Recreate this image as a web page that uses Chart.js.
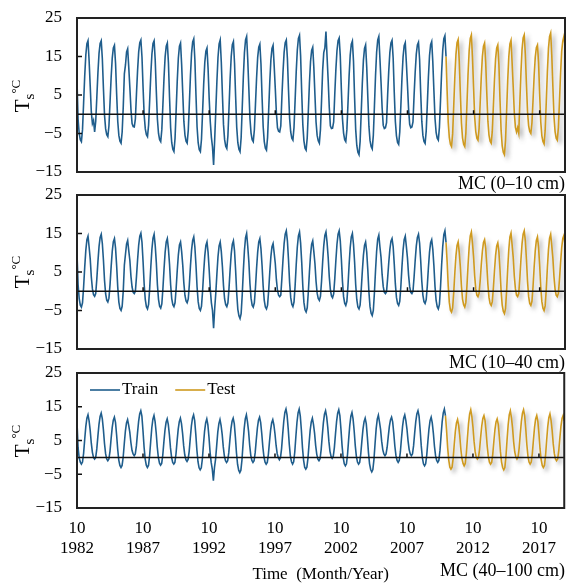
<!DOCTYPE html>
<html>
<head>
<meta charset="utf-8">
<script src="https://cdn.jsdelivr.net/npm/chart.js@4.4.1/dist/chart.umd.min.js"></script>
<style>
  body { margin: 0; background: #fff; width: 566px; height: 583px; overflow: hidden; position: relative;
         font-family: "Liberation Serif", "Times New Roman", serif; color: #000; }
  .panel { position: absolute; left: 0; }
  .ylab { position: absolute; font-size: 21px; line-height: 1; white-space: nowrap;
          transform: translate(-50%, -50%) rotate(-90deg); }
  .ylab .sb { font-size: 15px; position: relative; top: 5px; }
  .ylab .sp { font-size: 13px; position: relative; top: -9px; }
  .mc { position: absolute; right: 1px; font-size: 18px; line-height: 1; white-space: nowrap; }
</style>
</head>
<body>
<canvas class="panel" id="p1" width="566" height="176" style="top:0"></canvas>
<canvas class="panel" id="p2" width="566" height="176" style="top:178px"></canvas>
<canvas class="panel" id="p3" width="566" height="231" style="top:352px"></canvas>

<div class="ylab" style="left:22px;top:96px">T<span class="sb">s</span><span class="sp">°C</span></div>
<div class="ylab" style="left:22px;top:272px">T<span class="sb">s</span><span class="sp">°C</span></div>
<div class="ylab" style="left:22px;top:441px">T<span class="sb">s</span><span class="sp">°C</span></div>
<div class="mc" style="top:174px">MC (0–10 cm)</div>
<div class="mc" style="top:353px">MC (10–40 cm)</div>
<div class="mc" style="top:561px">MC (40–100 cm)</div>

<script>
// monthly soil temperature, Oct 1982 .. Sep 2019, one row = Oct..Sep
const tickMonth = "10";
const tickYears = ["1982", "1987", "1992", "1997", "2002", "2007", "2012", "2017"];
const monthsPerTick = 60;
const nTrain = 336;   // Oct 1982 - Sep 2010 train, rest test

const ts0_10 = [
  8.6, -1.4, -5.0, -6.6, -7.1, -4.0, 2.9, 9.9, 15.4, 18.3, 19.1, 13.9,
  7.3, 0.6, -2.4, -1.6, -4.6, -1.8, 4.4, 10.8, 15.8, 18.4, 19.1, 14.4,
  6.7, -0.3, -3.8, -5.3, -5.8, -3.0, 3.2, 9.6, 14.6, 17.2, 17.9, 13.2,
  5.2, -1.9, -5.5, -7.0, -7.5, -4.6, 2.0, 10.5, 12.8, 16.2, 17.0, 12.1,
  6.9, 1.2, -2.4, -3.2, -3.3, -1.2, 5.4, 11.4, 16.2, 18.6, 19.3, 14.8,
  6.8, -0.3, -3.8, -5.3, -5.8, -2.8, 3.7, 10.4, 15.6, 18.4, 19.1, 14.1,
  6.0, -1.3, -5.0, -6.6, -7.1, -4.0, 2.6, 9.5, 14.9, 17.7, 18.5, 13.4,
  4.4, -3.5, -7.4, -9.1, -9.7, -6.3, 1.0, 8.6, 14.6, 17.7, 18.5, 12.9,
  5.5, -1.8, -5.4, -7.0, -7.5, -4.2, 2.8, 10.1, 15.8, 18.8, 19.6, 14.2,
  5.0, -3.3, -7.4, -9.2, -9.7, -6.5, 0.5, 7.8, 13.4, 16.4, 17.2, 11.8,
  4.0, -2.0, -6.0, -8.5, -13.2, -6.5, 1.0, 8.5, 14.8, 18.3, 19.3, 13.5,
  5.2, -2.7, -6.6, -8.3, -8.9, -5.6, 1.7, 9.2, 15.0, 18.1, 18.9, 13.3,
  4.6, -3.4, -7.4, -9.1, -9.7, -6.1, 1.7, 9.7, 16.0, 19.3, 20.2, 14.2,
  6.6, -1.1, -4.9, -6.6, -7.1, -4.1, 2.5, 9.3, 14.7, 17.4, 18.2, 13.1,
  4.5, -3.2, -7.1, -8.8, -9.3, -6.0, 1.0, 8.4, 14.1, 17.1, 17.9, 12.5,
  6.7, 0.4, -3.5, -4.4, -4.6, -3.0, 4.5, 10.9, 16.0, 18.6, 19.3, 14.5,
  6.3, -1.0, -4.6, -6.2, -6.7, -3.4, 3.6, 11.0, 16.7, 19.7, 20.5, 15.1,
  5.6, -2.7, -6.9, -8.8, -9.3, -6.1, 0.8, 8.1, 13.7, 16.6, 17.4, 12.1,
  5.0, -2.0, -5.5, -6.9, -7.5, -4.0, 3.5, 11.4, 16.0, 17.2, 21.5, 15.0,
  8.9, 1.8, -3.0, -3.7, -3.6, -2.0, 5.2, 11.6, 16.5, 19.1, 19.8, 15.1,
  6.4, -1.2, -4.9, -6.6, -7.1, -4.0, 2.8, 9.9, 15.3, 18.2, 19.0, 13.8,
  4.3, -4.0, -8.1, -9.9, -10.5, -7.1, 0.3, 8.0, 14.0, 17.1, 18.0, 12.3,
  4.5, -3.1, -6.8, -8.4, -9.0, -5.5, 2.1, 10.0, 16.1, 19.3, 20.2, 14.4,
  8.3, 1.6, -2.9, -3.7, -3.5, -2.2, 5.0, 11.2, 16.0, 18.5, 19.2, 14.6,
  5.7, -1.9, -5.6, -7.3, -7.8, -4.6, 2.2, 9.4, 14.9, 17.8, 18.6, 13.3,
  7.6, 1.4, -2.6, -3.5, -3.3, -2.0, 4.9, 10.9, 15.6, 18.0, 18.7, 14.3,
  5.6, -1.8, -5.5, -7.1, -7.6, -4.4, 2.5, 9.6, 15.2, 18.1, 18.9, 13.6,
  6.1, -1.1, -4.7, -6.2, -6.7, -3.4, 3.6, 10.9, 16.6, 19.6, 20.4, 15.0,
  6.0, -2.1, -6.1, -7.8, -8.4, -5.1, 2.2, 9.7, 15.5, 18.6, 19.4, 13.8,
  5.5, -2.3, -6.2, -7.8, -8.4, -4.9, 2.6, 10.5, 16.5, 19.7, 20.6, 14.8,
  7.0, -0.7, -4.5, -6.2, -6.7, -3.7, 2.9, 9.7, 15.0, 17.7, 18.5, 13.5,
  5.5, -1.8, -5.4, -7.0, -7.5, -4.4, 2.2, 9.1, 14.4, 17.2, 18.0, 12.9,
  3.8, -4.2, -8.2, -9.9, -10.5, -6.9, 0.8, 8.8, 15.0, 18.3, 19.2, 13.3,
  7.1, 0.3, -3.4, -4.6, -3.5, -4.9, 3.0, 10.8, 16.8, 19.8, 20.6, 15.5,
  7.8, 0.6, -3.0, -4.5, -5.0, -2.2, 3.7, 10.0, 14.8, 17.3, 18.0, 13.4,
  5.2, -2.0, -5.6, -7.1, -7.7, -4.2, 3.2, 11.0, 17.1, 20.2, 21.1, 15.3,
  7.2, -0.6, -4.5, -6.2, -6.7, -3.5, 3.5, 10.8, 16.4, 19.0, 20.2, 18.0
];

const ts10_40 = [
  9.8, 1.7, -1.9, -3.6, -4.1, -3.0, 1.1, 6.2, 10.6, 13.4, 14.3, 11.5,
  8.4, 3.7, 0.6, -0.9, -1.3, -0.6, 3.2, 7.7, 11.6, 14.0, 14.8, 12.4,
  8.1, 2.8, -0.7, -2.3, -2.8, -1.8, 1.8, 6.4, 10.4, 12.9, 13.7, 11.2,
  6.6, 1.0, -2.8, -4.5, -5.0, -3.9, 0.1, 6.8, 9.6, 12.3, 13.2, 10.5,
  8.0, 3.8, 1.1, -0.3, -0.6, 0.0, 3.8, 8.2, 12.0, 14.3, 15.1, 12.7,
  7.6, 1.7, -2.2, -4.0, -4.6, -3.4, 0.8, 6.3, 10.9, 13.8, 14.8, 11.9,
  7.5, 1.7, -2.1, -3.9, -4.4, -3.3, 0.7, 5.7, 10.1, 12.8, 13.7, 11.0,
  7.0, 1.7, -1.9, -3.5, -4.0, -3.0, 0.7, 5.4, 9.4, 12.0, 12.8, 10.3,
  6.8, 2.1, -1.1, -2.5, -3.0, -2.0, 1.8, 6.6, 10.7, 13.2, 14.1, 11.5,
  6.8, 1.1, -2.7, -4.5, -5.0, -3.9, 0.0, 5.0, 9.2, 11.9, 12.8, 10.1,
  5.5, 0.5, -3.0, -5.0, -9.6, -4.5, -0.5, 4.5, 9.0, 11.8, 12.8, 10.3,
  6.4, 1.4, -2.0, -3.5, -4.0, -3.0, 0.8, 5.6, 9.7, 12.2, 13.1, 10.5,
  5.4, -0.6, -4.7, -6.4, -7.1, -5.8, -0.9, 5.3, 10.6, 13.9, 15.0, 11.7,
  7.7, 2.0, -1.8, -3.6, -4.1, -3.0, 0.9, 5.9, 10.1, 12.8, 13.7, 11.0,
  6.7, 1.3, -2.4, -4.1, -4.6, -3.6, 0.2, 4.9, 9.0, 11.6, 12.4, 9.9,
  7.2, 3.0, 0.2, -1.0, -1.4, -1.0, 3.4, 8.2, 12.3, 14.8, 15.7, 13.1,
  8.2, 2.3, -1.6, -3.4, -4.0, -2.8, 1.4, 6.9, 11.5, 14.4, 15.4, 12.5,
  7.5, 1.3, -2.9, -4.8, -5.4, -4.3, -0.2, 5.0, 9.4, 12.2, 13.1, 10.3,
  7.2, 2.6, -0.5, -1.9, -2.4, -1.3, 2.6, 7.6, 11.8, 14.5, 15.4, 12.7,
  8.9, 3.8, 0.4, -1.2, -1.7, -0.7, 3.2, 8.0, 12.2, 14.8, 15.7, 13.1,
  8.3, 2.5, -1.4, -3.1, -3.7, -2.6, 1.5, 6.8, 11.3, 14.1, 15.0, 12.2,
  7.6, 1.7, -2.2, -4.1, -4.6, -3.6, 0.3, 5.1, 9.3, 11.9, 12.8, 10.2,
  5.5, -0.2, -4.0, -5.7, -6.3, -5.0, -0.4, 5.4, 10.4, 13.6, 14.6, 11.5,
  8.8, 4.3, 1.2, -0.3, -0.6, -0.1, 3.4, 7.4, 10.8, 13.0, 13.7, 11.6,
  7.1, 1.9, -1.6, -3.2, -3.7, -2.6, 1.3, 6.4, 10.7, 13.4, 14.3, 11.6,
  8.6, 4.2, 1.2, -0.3, -0.6, 0.0, 3.7, 8.0, 11.7, 14.0, 14.8, 12.5,
  8.0, 2.6, -1.0, -2.7, -3.2, -2.2, 1.4, 6.1, 10.1, 12.6, 13.4, 10.9,
  6.6, 1.2, -2.4, -4.0, -4.6, -3.4, 1.1, 6.8, 11.6, 14.7, 15.7, 12.7,
  7.7, 1.4, -2.9, -4.9, -5.4, -4.3, -0.3, 4.8, 9.2, 11.9, 12.8, 10.1,
  6.4, 1.3, -2.1, -3.5, -4.1, -2.9, 1.4, 6.8, 11.5, 14.4, 15.4, 12.5,
  9.0, 4.0, 0.6, -1.0, -1.4, -0.5, 2.7, 6.9, 10.4, 12.7, 13.4, 11.2,
  6.9, 1.8, -1.6, -3.2, -3.7, -2.7, 0.9, 5.4, 9.3, 11.8, 12.6, 10.2,
  5.6, 0.1, -3.6, -5.2, -5.8, -4.5, 0.1, 5.9, 10.9, 14.1, 15.1, 12.0,
  8.8, 3.9, 0.6, -1.0, -1.4, -0.6, 3.4, 8.2, 12.3, 14.8, 15.7, 13.1,
  8.3, 2.5, -1.4, -3.2, -3.7, -2.6, 1.3, 6.3, 10.5, 13.2, 14.1, 11.4,
  6.8, 1.1, -2.7, -4.4, -5.0, -3.8, 0.5, 6.1, 10.8, 13.8, 14.8, 11.8,
  8.6, 3.8, 0.5, -1.0, -1.4, -0.5, 3.1, 7.5, 11.3, 13.7, 14.5, 12.1
];

const ts40_100 = [
  10.4, 2.8, -0.2, -1.4, -2.0, -1.4, 1.2, 5.3, 9.1, 11.6, 12.6, 10.8,
  8.0, 4.2, 1.5, 0.0, -0.5, 0.0, 2.5, 6.3, 9.8, 12.1, 13.1, 11.5,
  8.2, 4.1, 1.1, -0.5, -1.0, -0.5, 1.8, 5.5, 8.8, 11.0, 11.9, 10.4,
  6.7, 2.4, -0.8, -2.4, -3.0, -2.4, 0.1, 4.1, 7.8, 10.2, 11.2, 9.5,
  7.5, 4.4, 2.1, 1.0, 0.5, 1.0, 3.4, 7.2, 10.6, 12.9, 13.8, 12.2,
  7.9, 3.0, -0.5, -2.3, -3.0, -2.4, 0.4, 4.7, 8.7, 11.3, 12.4, 10.6,
  7.3, 3.0, -0.1, -1.7, -2.3, -1.8, 0.7, 4.6, 8.1, 10.4, 11.4, 9.8,
  6.7, 2.8, 0.0, -1.5, -2.0, -1.5, 1.0, 4.8, 8.3, 10.6, 11.6, 10.0,
  7.1, 3.4, 0.7, -0.7, -1.2, -0.6, 1.8, 5.7, 9.3, 11.6, 12.6, 10.9,
  6.9, 2.2, -1.3, -3.1, -3.7, -3.1, -0.4, 3.9, 7.8, 10.3, 11.4, 9.6,
  6.0, 1.5, -1.5, -3.5, -6.9, -3.0, -0.5, 3.5, 7.5, 10.0, 11.2, 9.5,
  6.8, 3.1, 0.4, -1.0, -1.5, -1.0, 1.4, 5.1, 8.5, 10.7, 11.6, 10.0,
  6.0, 1.3, -2.1, -3.8, -4.5, -3.8, -0.7, 4.1, 8.5, 11.4, 12.6, 10.5,
  7.7, 3.6, 0.6, -0.9, -1.5, -1.0, 1.4, 5.2, 8.7, 11.0, 11.9, 10.3,
  7.0, 3.0, 0.1, -1.4, -2.0, -1.5, 0.9, 4.6, 8.0, 10.3, 11.2, 9.6,
  7.0, 3.6, 1.1, -0.1, -0.7, -0.1, 2.6, 6.8, 10.7, 13.3, 14.3, 12.5,
  8.6, 3.9, 0.4, -1.3, -2.0, -1.3, 1.6, 6.2, 10.4, 13.2, 14.3, 12.3,
  8.1, 2.9, -0.8, -2.9, -3.5, -2.9, -0.2, 4.1, 8.0, 10.5, 11.6, 9.8,
  7.2, 3.5, 0.9, -0.5, -1.0, -0.4, 2.3, 6.4, 10.2, 12.8, 13.8, 12.0,
  8.9, 4.8, 1.8, 0.3, -0.3, 0.3, 2.9, 6.9, 10.6, 13.1, 14.1, 12.4,
  8.3, 3.5, 0.0, -1.9, -2.5, -1.9, 1.0, 5.4, 9.5, 12.2, 13.3, 11.4,
  7.9, 3.5, 0.3, -1.4, -2.0, -1.5, 1.0, 4.8, 8.3, 10.6, 11.6, 10.0,
  6.0, 1.4, -1.9, -3.6, -4.3, -3.6, -0.6, 4.1, 8.5, 11.3, 12.5, 10.5,
  8.3, 4.8, 2.3, 1.0, 0.5, 1.0, 3.0, 6.2, 9.2, 11.1, 11.9, 10.5,
  7.2, 3.3, 0.5, -0.9, -1.5, -0.9, 1.6, 5.6, 9.2, 11.6, 12.6, 10.9,
  8.4, 4.9, 2.3, 1.0, 0.5, 1.0, 3.4, 7.2, 10.6, 12.9, 13.8, 12.2,
  8.1, 3.4, -0.1, -1.9, -2.5, -1.9, 0.7, 4.7, 8.4, 10.9, 11.9, 10.2,
  7.2, 3.3, 0.5, -0.9, -1.5, -0.9, 2.0, 6.4, 10.5, 13.2, 14.3, 12.4,
  8.1, 2.9, -0.8, -2.9, -3.5, -2.9, -0.3, 3.9, 7.7, 10.2, 11.2, 9.4,
  6.4, 2.4, -0.4, -1.8, -2.5, -1.8, 1.2, 5.8, 10.1, 12.9, 14.1, 12.1,
  9.0, 4.8, 1.7, 0.0, -0.5, 0.0, 2.3, 6.0, 9.3, 11.5, 12.4, 10.9,
  7.4, 3.2, 0.2, -1.4, -2.0, -1.5, 0.9, 4.7, 8.2, 10.5, 11.4, 9.8,
  6.1, 1.7, -1.4, -3.0, -3.7, -3.0, 0.2, 5.1, 9.6, 12.6, 13.8, 11.7,
  8.8, 4.6, 1.6, 0.1, -0.5, 0.1, 2.7, 6.8, 10.6, 13.1, 14.1, 12.3,
  8.5, 3.8, 0.4, -1.4, -2.0, -1.4, 1.2, 5.2, 8.9, 11.4, 12.4, 10.7,
  7.0, 2.5, -0.7, -2.4, -3.0, -2.4, 0.5, 5.0, 9.1, 11.8, 12.9, 11.0,
  8.0, 4.0, 1.1, -0.5, -1.0, -0.5, 1.9, 5.7, 9.2, 11.5, 12.4, 10.8
];

const BLUE = "#1f5d8c";
const GOLD = "#cf9a1f";
const FONT = '"Liberation Serif", "Times New Roman", serif';

Chart.defaults.font.family = FONT;
Chart.defaults.font.size = 17;
Chart.defaults.color = "#000";

// frame, zero line, inner ticks, shadow on the test line, one-row legend
const framePlugin = {
  id: "frame",
  beforeDatasetDraw(chart, args) {
    if (args.index !== 1) return;
    const c = chart.ctx;
    c.save();
    c.shadowColor = "rgba(70,70,70,0.45)";
    c.shadowBlur = 4;
    c.shadowOffsetX = 3;
    c.shadowOffsetY = 3;
  },
  afterDatasetDraw(chart, args) {
    if (args.index === 1) chart.ctx.restore();
  },
  afterDatasetsDraw(chart, args, opts) {
    const { ctx, chartArea: a, scales: { x, y } } = chart;
    const y0 = y.getPixelForValue(0);
    ctx.save();
    ctx.strokeStyle = "#111";
    ctx.lineWidth = 1.5;
    ctx.beginPath();
    ctx.moveTo(a.left, y0);
    ctx.lineTo(a.right, y0);
    y.ticks.forEach(t => {
      const py = y.getPixelForValue(t.value);
      ctx.moveTo(a.left, py);
      ctx.lineTo(a.left + 5, py);
    });
    tickYears.forEach((_, i) => {
      const px = x.getPixelForValue(i * monthsPerTick);
      ctx.moveTo(px, y0);
      ctx.lineTo(px, y0 - 4);
    });
    ctx.stroke();
    ctx.lineWidth = 2;
    ctx.strokeStyle = "#222";
    ctx.strokeRect(a.left, a.top, a.right - a.left, a.bottom - a.top);

    if (opts.legend) {
      let lx = a.left + 13;
      const ly = a.top + 17;
      ctx.font = "17px " + FONT;
      ctx.textBaseline = "middle";
      ctx.fillStyle = "#000";
      chart.data.datasets.forEach(ds => {
        ctx.strokeStyle = ds.borderColor;
        ctx.lineWidth = 1.6;
        ctx.beginPath();
        ctx.moveTo(lx, ly);
        ctx.lineTo(lx + 30, ly);
        ctx.stroke();
        ctx.fillText(ds.label, lx + 32, ly);
        lx += 32 + ctx.measureText(ds.label).width + 17;
      });
    }
    ctx.restore();
  }
};

function makePanel(id, series, bottom, pad) {
  const train = series.slice(0, nTrain).map((v, i) => ({ x: i, y: v }));
  const test = series.slice(nTrain - 1).map((v, i) => ({ x: i + nTrain - 1, y: v }));
  return new Chart(document.getElementById(id), {
    type: "line",
    data: {
      datasets: [
        { label: "Train", data: train, borderColor: BLUE, backgroundColor: BLUE, borderWidth: 1.6, pointRadius: 0, tension: 0 },
        { label: "Test", data: test, borderColor: GOLD, backgroundColor: GOLD, borderWidth: 1.6, pointRadius: 0, tension: 0 }
      ]
    },
    options: {
      responsive: false,
      animation: false,
      devicePixelRatio: 1,
      layout: { padding: pad },
      plugins: {
        tooltip: { enabled: false },
        legend: { display: false },
        frame: { legend: bottom }
      },
      scales: {
        x: {
          type: "linear",
          min: 0,
          max: series.length - 1,
          display: bottom,
          afterBuildTicks: s => { s.ticks = tickYears.map((_, i) => ({ value: i * monthsPerTick })); },
          afterFit: s => { if (bottom) s.height = 75; },
          grid: { display: false, drawTicks: false },
          border: { display: false },
          ticks: { autoSkip: false, maxRotation: 0, padding: 10, callback: (v, i) => [tickMonth, tickYears[i]] },
          title: { display: bottom, text: "Time  (Month/Year)", font: { size: 17, lineHeight: 1 }, padding: { top: 0, bottom: 0 } }
        },
        y: {
          min: -15,
          max: 25,
          afterFit: s => { s.width = 77; s.paddingTop = 8; s.paddingBottom = 4; },
          grid: { display: false, drawTicks: false },
          border: { display: false },
          ticks: { stepSize: 10, padding: 15, callback: v => (v < 0 ? "−" + Math.abs(v) : String(v)) }
        }
      }
    },
    plugins: [framePlugin]
  });
}

makePanel("p1", ts0_10, false, { top: 18, bottom: 4, left: 0, right: 1 });
makePanel("p2", ts10_40, false, { top: 17, bottom: 5, left: 0, right: 1 });
makePanel("p3", ts40_100, true, { top: 21, bottom: 0, left: 0, right: 1 });
</script>
</body>
</html>
